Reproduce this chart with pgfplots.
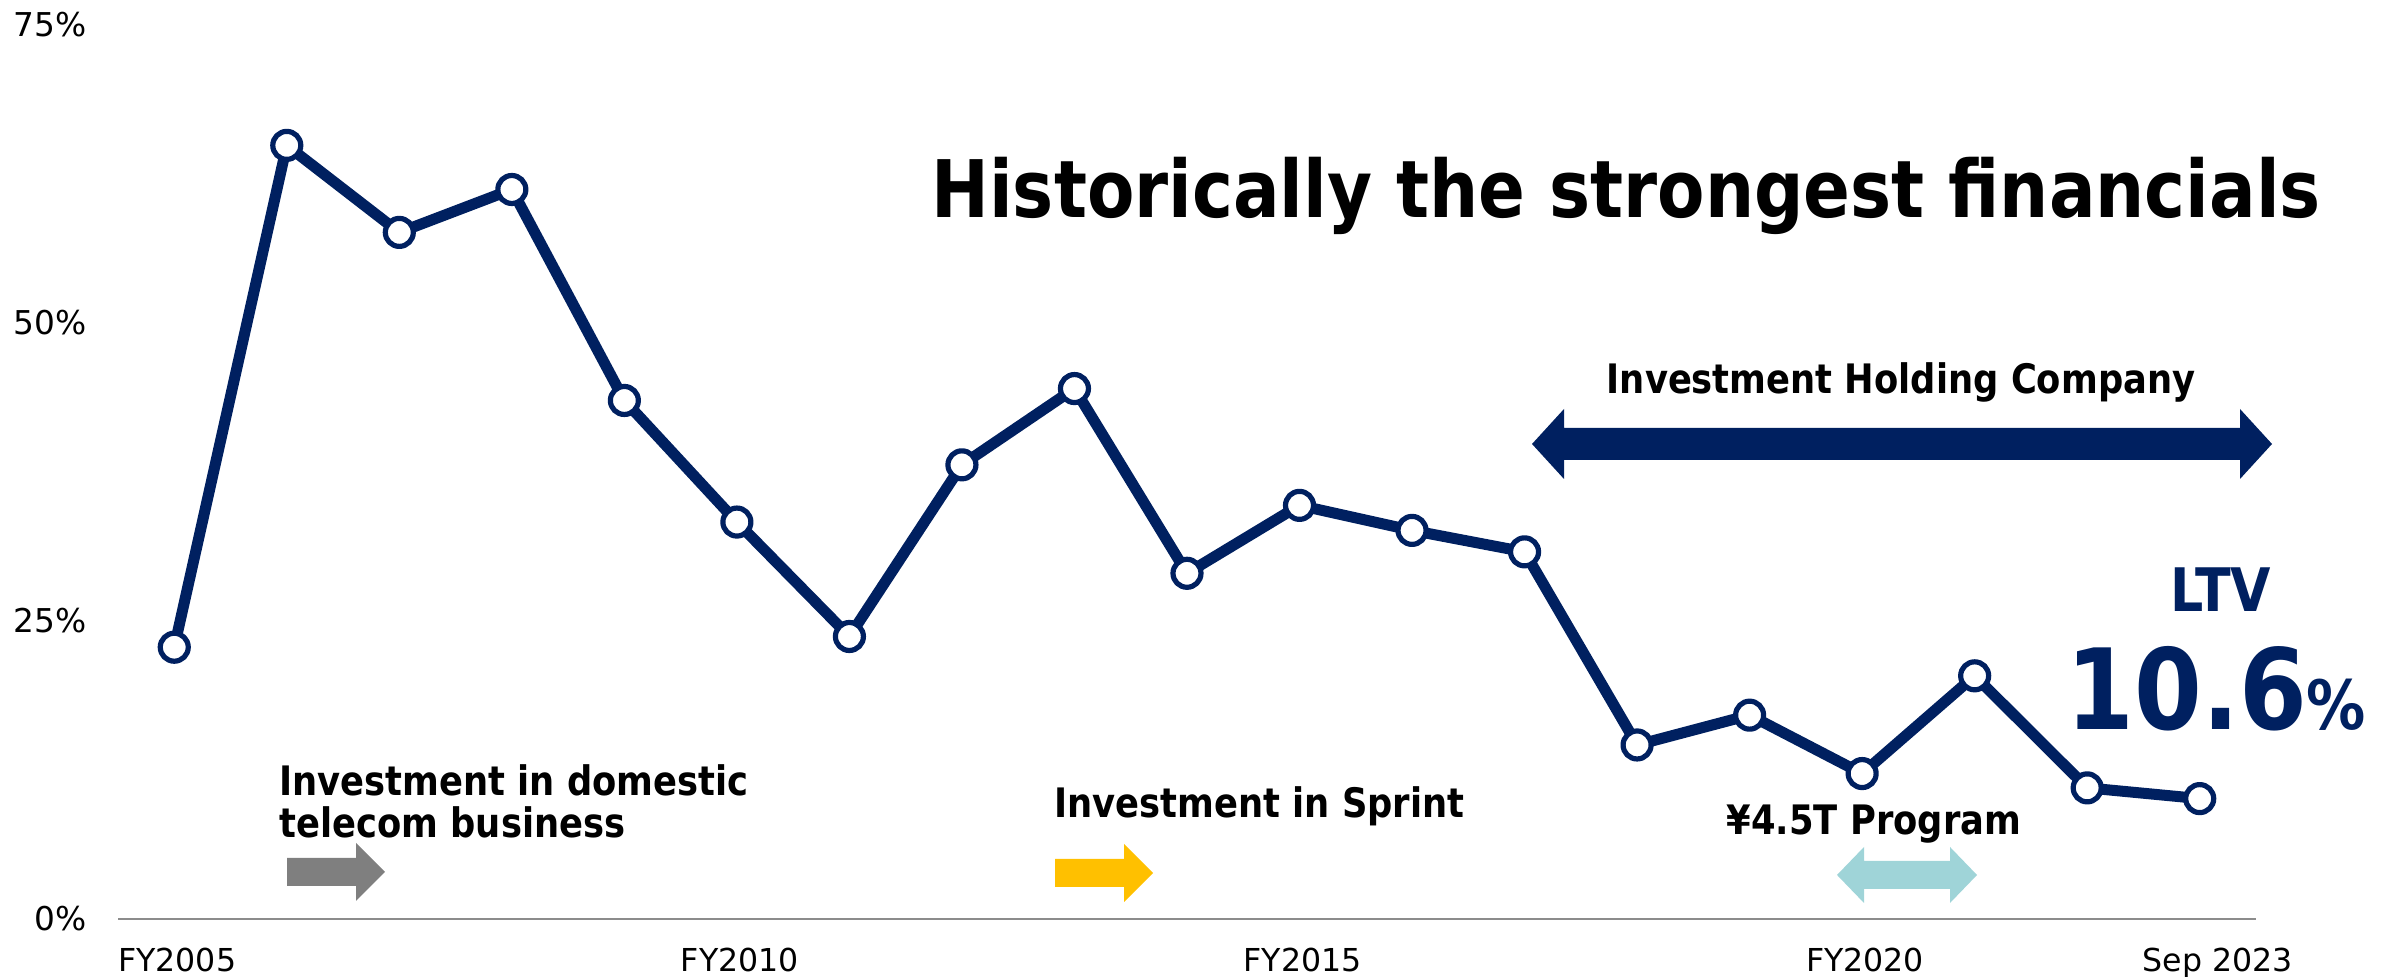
\documentclass[border=0pt]{standalone}
\usepackage{fontspec}
\setmainfont{DejaVu Sans}
\newfontfamily\bfont{DejaVu Sans}[FakeStretch=0.87]
\usepackage{pgfplots}
\pgfplotsset{compat=1.18}
\definecolor{navy}{HTML}{002060}
\definecolor{axgray}{HTML}{8C8C8C}
\definecolor{arrgray}{HTML}{7F7F7F}
\definecolor{arryel}{HTML}{FFC000}
\definecolor{arrteal}{HTML}{9FD4D8}
\pgfplotstableread{
x y
0 22.8
1 64.9
2 57.6
3 61.2
4 43.5
5 33.3
6 23.7
7 38.1
8 44.5
9 29.0
10 34.7
11 32.6
12 30.8
13 14.6
14 17.1
15 12.2
16 20.4
17 11.0
18 10.1
}\ltvdata
\begin{document}
\begin{tikzpicture}
\useasboundingbox (0,0) rectangle (1197pt,488.5pt);
\begin{axis}[
  at={(59pt,29pt)}, anchor=south west,
  width=1069pt, height=447pt, scale only axis,
  xmin=-0.5, xmax=18.5, ymin=0, ymax=75,
  axis x line=bottom, axis y line=left,
  x axis line style={-, draw=axgray, line width=1pt},
  y axis line style={draw=none},
  major tick length=0pt,
  xtick={0,5,10,15,18},
  xticklabels={FY2005,FY2010,FY2015,FY2020,\hspace*{15pt}Sep 2023},
  ytick={0,25,50,75},
  yticklabels={0\%,25\%,50\%,75\%},
  xticklabel style={anchor=base, inner sep=0pt, yshift=-26.5pt, xshift=1.5pt, font=\fontsize{15.8}{18}\selectfont},
  yticklabel style={anchor=east, inner sep=0pt, xshift=-15.5pt, font=\fontsize{16.4}{19}\selectfont},
  clip=false,
]
\addplot[navy, line width=5.5pt, line join=round, mark=*, mark size=7pt,
  mark options={fill=white, draw=navy, line width=2.6pt, solid}] table[x=x,y=y] {\ltvdata};
\end{axis}
% title
\node[anchor=base west, inner sep=0pt] at (465.5pt,379.5pt) {\bfont\bfseries\fontsize{39.7}{46}\selectfont Historically the strongest financials};
% investment holding company
\node[anchor=base, inner sep=0pt] at (950.5pt,291.5pt) {\bfont\bfseries\fontsize{20.3}{24}\selectfont Investment Holding Company};
\fill[navy] (782pt,258.5pt) -- (1120pt,258.5pt) -- (1120pt,249pt) -- (1136pt,266.5pt) -- (1120pt,284pt) -- (1120pt,274.5pt) -- (782pt,274.5pt) -- (782pt,284pt) -- (766pt,266.5pt) -- (782pt,249pt) -- cycle;
% LTV
\node[anchor=base, inner sep=0pt, text=navy] at (1110.5pt,182.5pt) {\bfont\bfseries\fontsize{30}{34}\selectfont LTV};
\node[anchor=base west, inner sep=0pt, text=navy] at (1033pt,123.5pt) {\bfont\bfseries{\fontsize{56}{60}\selectfont 10.6}{\fontsize{34}{38}\selectfont\%}};
% domestic telecom
\node[anchor=base west, inner sep=0pt] at (139.5pt,90.5pt) {\bfont\bfseries\fontsize{20.3}{24}\selectfont Investment in domestic};
\node[anchor=base west, inner sep=0pt] at (139.5pt,69.5pt) {\bfont\bfseries\fontsize{20.3}{24}\selectfont telecom business};
\fill[arrgray] (143.5pt,45.5pt) -- (178pt,45.5pt) -- (178pt,38pt) -- (192.5pt,52.5pt) -- (178pt,67pt) -- (178pt,59.5pt) -- (143.5pt,59.5pt) -- cycle;
% Sprint
\node[anchor=base west, inner sep=0pt] at (527pt,79.5pt) {\bfont\bfseries\fontsize{20.3}{24}\selectfont Investment in Sprint};
\fill[arryel] (527.5pt,45pt) -- (562pt,45pt) -- (562pt,37.5pt) -- (576.5pt,52pt) -- (562pt,66.5pt) -- (562pt,59pt) -- (527.5pt,59pt) -- cycle;
% 4.5T program
\node[anchor=base, inner sep=0pt] at (937pt,71pt) {\bfont\bfseries\fontsize{20.3}{24}\selectfont ¥4.5T Program};
\fill[arrteal] (932pt,44pt) -- (975pt,44pt) -- (975pt,37pt) -- (988.5pt,51pt) -- (975pt,65pt) -- (975pt,58pt) -- (932pt,58pt) -- (932pt,65pt) -- (918.5pt,51pt) -- (932pt,37pt) -- cycle;
\end{tikzpicture}
\end{document}
